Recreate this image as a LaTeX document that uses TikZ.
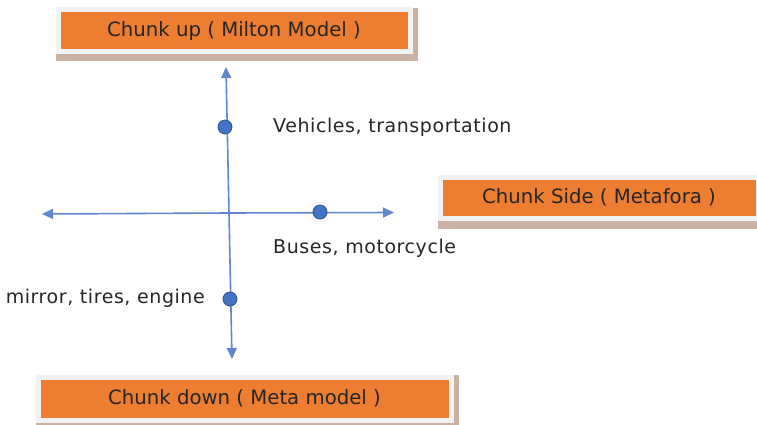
\documentclass[tikz,border=0pt]{standalone}
\usepackage{fontspec}
\setmainfont{DejaVu Sans}
\newfontfamily\boxfont{DejaVu Sans}
\newfontfamily\lblfont[LetterSpace=3]{DejaVu Sans}
\usetikzlibrary{arrows.meta}
\definecolor{orng}{HTML}{ED7D31}
\definecolor{frm}{HTML}{F2F2F2}
\definecolor{shd}{HTML}{C9B2A2}
\definecolor{blu}{HTML}{4472C4}
\definecolor{bluedge}{HTML}{2F528F}
\tikzset{
  chunkbox/.style={fill=orng, draw=frm, line width=5pt, inner sep=0pt, font=\boxfont\fontsize{19.7}{22}\selectfont, text=black!85},
  axis/.style={draw=blu!85, line width=1.6pt, -{Triangle[length=11pt,width=10pt]}},
  dot/.style={circle, fill=blu, draw=bluedge, line width=0.8pt, minimum size=14pt, inner sep=0pt},
  lbl/.style={font=\lblfont\fontsize{19}{22}\selectfont, text=black!85, inner sep=0pt}
}
\begin{document}
\begin{tikzpicture}[x=1pt,y=-1pt]
\useasboundingbox (0,0) rectangle (757,425);
% shadows
\fill[shd] (56,8) rectangle (418,61);
\fill[shd] (438,175) rectangle (760,229);
\fill[shd] (36,375) rectangle (459,428);
% boxes
\node[chunkbox, minimum width=352pt, minimum height=42pt] (up) at (234,31) {Chunk up ( Milton Model )};
\node[chunkbox, minimum width=318pt, minimum height=41pt] (side) at (599,197.5) {Chunk Side ( Metafora )};
\node[chunkbox, minimum width=413pt, minimum height=43pt] (down) at (244.5,398.5) {Chunk down ( Meta model )};
% axes
\coordinate (ctr) at (229,213);
\coordinate (topend) at (226,67);
\coordinate (botend) at (232,359);
\coordinate (leftend) at (42,214);
\coordinate (rightend) at (394,212.5);
\draw[axis] (ctr) -- (topend);
\draw[axis] (ctr) -- (botend);
\draw[axis] (ctr) -- (leftend);
\draw[axis] (ctr) -- (rightend);
% dots
\node[dot] (d1) at (225,127) {};
\node[dot] (d2) at (320,212) {};
\node[dot] (d3) at (230,299) {};
% labels
\node[lbl, anchor=west] (l1) at (273,127) {Vehicles, transportation};
\node[lbl, anchor=west] (l2) at (273,248) {Buses, motorcycle};
\node[lbl, anchor=east] (l3) at (205,298) {mirror, tires, engine};
\end{tikzpicture}
\end{document}
